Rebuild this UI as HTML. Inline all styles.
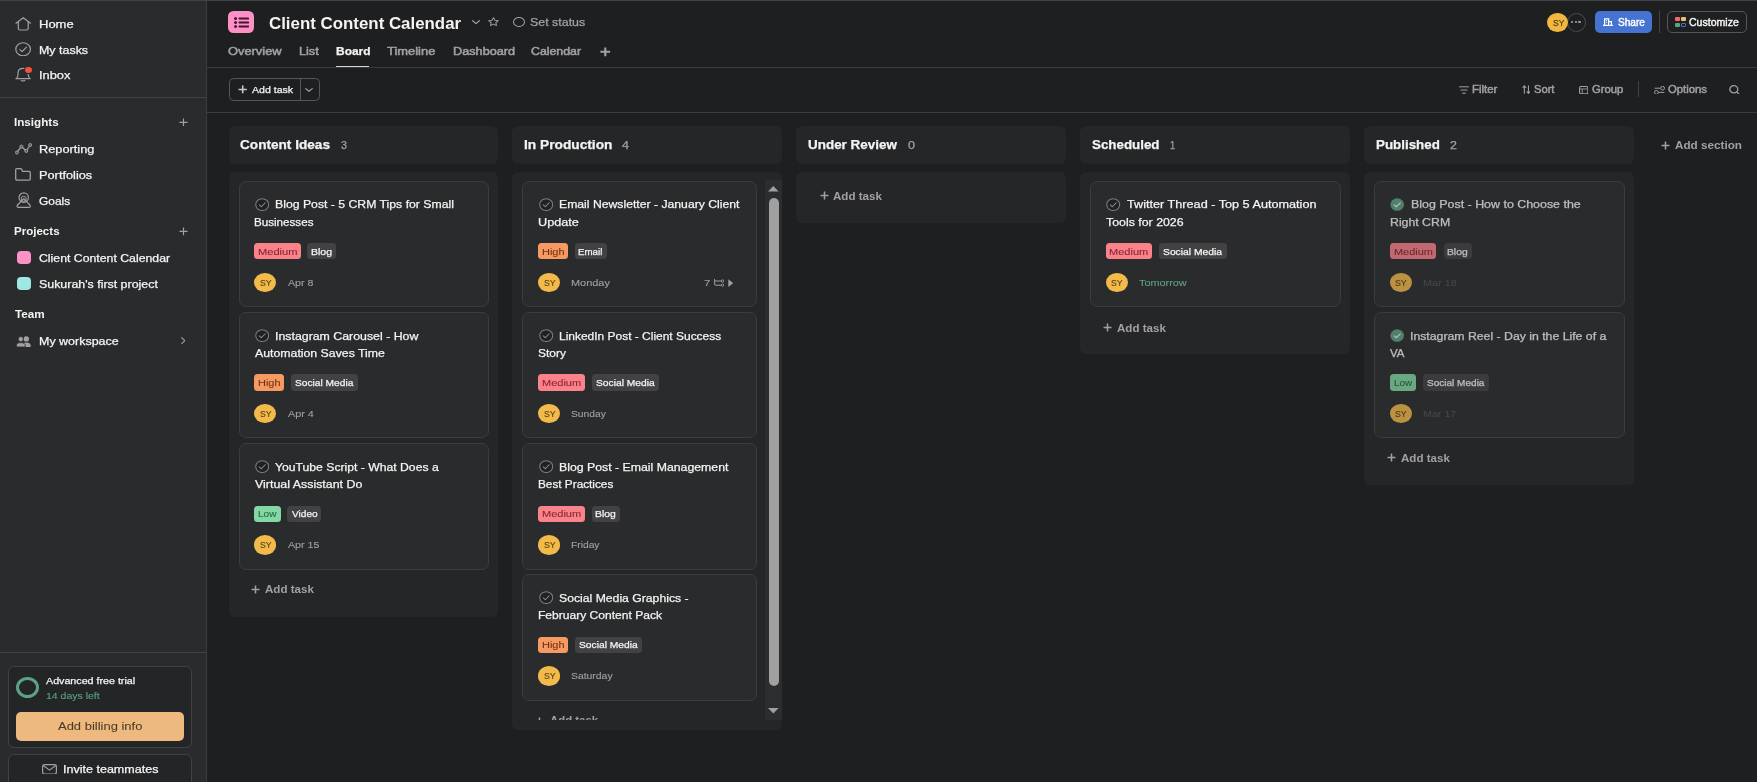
<!DOCTYPE html>
<html><head><meta charset="utf-8"><title>Client Content Calendar</title>
<style>
html,body{margin:0;padding:0;background:#1e1f21;}
body{width:1757px;height:782px;position:relative;overflow:hidden;font-family:"Liberation Sans",sans-serif;}
.b{position:absolute;box-sizing:border-box;}
.t{position:absolute;white-space:nowrap;line-height:1;transform-origin:0 0;display:block;filter:blur(0.35px);-webkit-text-stroke:0.25px currentColor;}
</style></head><body>
<div class="b" style="left:0.00px;top:0.00px;width:206.00px;height:782.00px;background:#2a2b2d;"></div>
<div class="b" style="left:206.00px;top:0.00px;width:1.00px;height:782.00px;background:#3c3d3f;"></div>
<div class="b" style="left:0.00px;top:0.00px;width:1757.00px;height:1.00px;background:#424244;"></div>
<div class="b" style="left:0.00px;top:97.00px;width:206.00px;height:1.00px;background:#424244;"></div>
<div class="b" style="left:0.00px;top:652.00px;width:206.00px;height:1.00px;background:#424244;"></div>
<div class="b" style="left:207.00px;top:67.00px;width:1550.00px;height:1.00px;background:#3a3b3d;"></div>
<div class="b" style="left:207.00px;top:112.00px;width:1550.00px;height:1.00px;background:#3a3b3d;"></div>
<svg class="b" style="left:14.90px;top:16.90px;" width="16.50" height="14.00" viewBox="0 0 16 14" preserveAspectRatio="none" fill="none"><path d="M1 6.2 L8 0.8 L15 6.2 M3.2 5 V11.2 Q3.2 13 5 13 H11 Q12.8 13 12.8 11.2 V5" stroke="#a2a0a2" stroke-width="1.2" stroke-linecap="round" stroke-linejoin="round"/></svg>
<span class="t" style="left:38.67px;top:19.00px;font-size:10.5px;color:#f5f4f3;font-weight:400;transform:scaleX(1.2370);">Home</span>
<svg class="b" style="left:15.00px;top:41.80px;" width="16.20" height="14.40" viewBox="0 0 16 16" preserveAspectRatio="none" fill="none"><circle cx="8" cy="8" r="7.2" stroke="#a2a0a2" stroke-width="1.2"/><path d="M4.8 8.4 L7 10.6 L11.4 5.8" stroke="#a2a0a2" stroke-width="1.2" stroke-linecap="round" stroke-linejoin="round"/></svg>
<span class="t" style="left:38.71px;top:45.00px;font-size:10.5px;color:#f5f4f3;font-weight:400;transform:scaleX(1.1852);">My tasks</span>
<svg class="b" style="left:15.00px;top:67.40px;" width="16.20" height="14.80" viewBox="0 0 16 16" preserveAspectRatio="none" fill="none"><path d="M1 12.6 Q3 11 3 8 V6.5 Q3 1.5 8 1.5 Q13 1.5 13 6.5 V8 Q13 11 15 12.6 Z" stroke="#a2a0a2" stroke-width="1.2" stroke-linejoin="round"/><path d="M6.3 14.6 Q8 15.8 9.7 14.6" stroke="#a2a0a2" stroke-width="1.2" stroke-linecap="round"/></svg>
<div class="b" style="left:24.80px;top:66.60px;width:7.00px;height:6.40px;background:#f4503f;border-radius:50%;box-shadow:0 0 0 1px #2a2b2d;"></div>
<span class="t" style="left:38.88px;top:70.00px;font-size:10.5px;color:#f5f4f3;font-weight:400;transform:scaleX(1.2204);">Inbox</span>
<span class="t" style="left:14.25px;top:117.00px;font-size:10.5px;color:#f5f4f3;font-weight:700;transform:scaleX(1.1089);-webkit-text-stroke:0;">Insights</span>
<svg class="b" style="left:178.60px;top:117.60px;" width="9.00" height="8.80" viewBox="0 0 10 10" preserveAspectRatio="none" fill="none"><path d="M5 0.5 V9.5 M0.5 5 H9.5" stroke="#a2a0a2" stroke-width="1.3"/></svg>
<svg class="b" style="left:14.60px;top:143.40px;" width="17.00" height="11.40" viewBox="0 0 17 11.4" preserveAspectRatio="none" fill="none"><path d="M1.8 9.5 L6.4 3.6 L11.3 8 L15.2 2" stroke="#a2a0a2" stroke-width="1.3" stroke-linejoin="round"/><circle cx="1.9" cy="9.5" r="1.5" stroke="#a2a0a2" stroke-width="1" fill="#555557"/><circle cx="6.4" cy="3.6" r="1.5" stroke="#a2a0a2" stroke-width="1" fill="#555557"/><circle cx="11.3" cy="8" r="1.5" stroke="#a2a0a2" stroke-width="1" fill="#555557"/><circle cx="15.2" cy="2" r="1.5" stroke="#a2a0a2" stroke-width="1" fill="#555557"/></svg>
<span class="t" style="left:38.69px;top:144.00px;font-size:10.5px;color:#f5f4f3;font-weight:400;transform:scaleX(1.2158);">Reporting</span>
<svg class="b" style="left:15.00px;top:168.40px;" width="16.00" height="12.80" viewBox="0 0 16 12.8" preserveAspectRatio="none" fill="none"><path d="M0.7 2 Q0.7 0.7 2 0.7 H5.6 Q6.4 0.7 6.8 1.6 L7.6 3.4 H14 Q15.3 3.4 15.3 4.7 V10.8 Q15.3 12.1 14 12.1 H2 Q0.7 12.1 0.7 10.8 Z" stroke="#a2a0a2" stroke-width="1.3" stroke-linejoin="round"/></svg>
<span class="t" style="left:38.69px;top:170.00px;font-size:10.5px;color:#f5f4f3;font-weight:400;transform:scaleX(1.2164);">Portfolios</span>
<svg class="b" style="left:15.60px;top:192.00px;" width="15.40" height="16.00" viewBox="0 0 15.4 16" preserveAspectRatio="none" fill="none"><circle cx="7.7" cy="5.6" r="4.7" stroke="#a2a0a2" stroke-width="1.2"/><circle cx="7.7" cy="6.8" r="2.5" stroke="#a2a0a2" stroke-width="1"/><path d="M7.7 6.6 L13.9 13 Q15 15.3 12.8 15.3 H2.6 Q0.4 15.3 1.5 13 Z" stroke="#a2a0a2" stroke-width="1.2" stroke-linejoin="round"/></svg>
<span class="t" style="left:39.03px;top:196.00px;font-size:10.5px;color:#f5f4f3;font-weight:400;transform:scaleX(1.1364);">Goals</span>
<span class="t" style="left:14.25px;top:226.00px;font-size:10.5px;color:#f5f4f3;font-weight:700;transform:scaleX(1.0994);-webkit-text-stroke:0;">Projects</span>
<svg class="b" style="left:178.60px;top:226.80px;" width="9.00" height="8.80" viewBox="0 0 10 10" preserveAspectRatio="none" fill="none"><path d="M5 0.5 V9.5 M0.5 5 H9.5" stroke="#a2a0a2" stroke-width="1.3"/></svg>
<div class="b" style="left:16.60px;top:251.00px;width:14.80px;height:13.40px;background:#fc91c6;border-radius:4px;"></div>
<span class="t" style="left:39.02px;top:253.00px;font-size:10.5px;color:#f5f4f3;font-weight:400;transform:scaleX(1.1695);">Client Content Calendar</span>
<div class="b" style="left:16.60px;top:277.00px;width:14.80px;height:13.40px;background:#9ee7e3;border-radius:4px;"></div>
<span class="t" style="left:39.01px;top:279.00px;font-size:10.5px;color:#f5f4f3;font-weight:400;transform:scaleX(1.1810);">Sukurah's first project</span>
<span class="t" style="left:15.00px;top:309.00px;font-size:10.5px;color:#f5f4f3;font-weight:700;transform:scaleX(1.1154);-webkit-text-stroke:0;">Team</span>
<svg class="b" style="left:16.40px;top:336.00px;" width="15.00" height="11.00" viewBox="0 0 15 11" preserveAspectRatio="none" fill="none"><circle cx="10.3" cy="2.9" r="2.7" fill="#a2a0a2"/><path d="M6.2 11 V9.6 Q6.2 6.4 10.3 6.4 Q14.6 6.4 14.6 9.6 V11 Z" fill="#a2a0a2"/><circle cx="4.8" cy="3.1" r="2.6" fill="#a2a0a2" stroke="#2a2b2d" stroke-width="0.8"/><path d="M0.4 11 V9.8 Q0.4 6.6 4.8 6.6 Q9.2 6.6 9.2 9.8 V11 Z" fill="#a2a0a2" stroke="#2a2b2d" stroke-width="0.8"/></svg>
<span class="t" style="left:38.71px;top:336.00px;font-size:10.5px;color:#f5f4f3;font-weight:400;transform:scaleX(1.1879);">My workspace</span>
<svg class="b" style="left:180.60px;top:337.40px;" width="4.60" height="7.40" viewBox="0 0 5 8" preserveAspectRatio="none" fill="none"><path d="M0.8 0.8 L4.2 4 L0.8 7.2" stroke="#a2a0a2" stroke-width="1.2" stroke-linecap="round" stroke-linejoin="round"/></svg>
<div class="b" style="left:8.40px;top:666.40px;width:183.60px;height:81.60px;background:#242527;border:1px solid #424244;border-radius:6px;"></div>
<div class="b" style="left:15.60px;top:677.00px;width:23.00px;height:21.00px;border:1px solid #5da283;border-radius:50%;border-width:3px;"></div>
<span class="t" style="left:46.00px;top:676.00px;font-size:9.5px;color:#f5f4f3;font-weight:400;transform:scaleX(1.1251);">Advanced free trial</span>
<span class="t" style="left:45.77px;top:691.00px;font-size:9.5px;color:#5da283;font-weight:400;transform:scaleX(1.1042);-webkit-text-stroke:0.1px;">14 days left</span>
<div class="b" style="left:15.60px;top:712.40px;width:168.60px;height:28.60px;background:#edb97e;border-radius:5px;"></div>
<span class="t" style="left:58.00px;top:721.00px;font-size:11px;color:#4a3a26;font-weight:400;transform:scaleX(1.1789);-webkit-text-stroke:0.05px;">Add billing info</span>
<div class="b" style="left:8.40px;top:754.40px;width:183.60px;height:40.00px;background:#242527;border:1px solid #424244;border-radius:6px;"></div>
<svg class="b" style="left:42.00px;top:763.60px;" width="15.00" height="10.60" viewBox="0 0 15 11" preserveAspectRatio="none" fill="none"><rect x="0.6" y="0.6" width="13.8" height="9.8" rx="1.8" stroke="#a2a0a2" stroke-width="1.2"/><path d="M1.2 1.6 L7.5 6.4 L13.8 1.6" stroke="#a2a0a2" stroke-width="1.2" stroke-linejoin="round"/></svg>
<span class="t" style="left:62.81px;top:764.00px;font-size:10.5px;color:#f5f4f3;font-weight:400;transform:scaleX(1.1937);">Invite teammates</span>
<div class="b" style="left:228.40px;top:11.00px;width:26.00px;height:22.00px;background:#fc91c6;border-radius:5.5px;"></div>
<svg class="b" style="left:233.60px;top:16.60px;" width="15.60" height="11.00" viewBox="0 0 16 11" preserveAspectRatio="none" fill="none"><circle cx="1.6" cy="1.6" r="1.5" fill="#4a1230"/><circle cx="1.6" cy="5.5" r="1.5" fill="#4a1230"/><circle cx="1.6" cy="9.4" r="1.5" fill="#4a1230"/><path d="M5.6 1.6 H14.6 M5.6 5.5 H14.6 M5.6 9.4 H14.6" stroke="#4a1230" stroke-width="2" stroke-linecap="round"/></svg>
<span class="t" style="left:269.07px;top:16.00px;font-size:15.8px;color:#f5f4f3;font-weight:700;transform:scaleX(1.0678);-webkit-text-stroke:0;">Client Content Calendar</span>
<svg class="b" style="left:471.60px;top:19.60px;" width="8.00" height="4.40" viewBox="0 0 8 4.4" preserveAspectRatio="none" fill="none"><path d="M0.7 0.7 L4 3.6 L7.3 0.7" stroke="#a2a0a2" stroke-width="1.2" stroke-linecap="round" stroke-linejoin="round"/></svg>
<svg class="b" style="left:488.00px;top:17.40px;" width="11.00" height="9.20" viewBox="0 0 12 11.4" preserveAspectRatio="none" fill="none"><path d="M6 0.8 L7.6 4 L11.2 4.5 L8.6 7 L9.2 10.6 L6 8.9 L2.8 10.6 L3.4 7 L0.8 4.5 L4.4 4 Z" stroke="#a2a0a2" stroke-width="1.1" stroke-linejoin="round"/></svg>
<div class="b" style="left:513.40px;top:17.00px;width:11.60px;height:10.00px;border:1px solid #a2a0a2;border-radius:50%;"></div>
<span class="t" style="left:530.41px;top:17.00px;font-size:10.5px;color:#a2a0a2;font-weight:400;transform:scaleX(1.1826);">Set status</span>
<span class="t" style="left:228.40px;top:46.00px;font-size:10.8px;color:#a2a0a2;font-weight:400;transform:scaleX(1.1910);-webkit-text-stroke:0.5px;">Overview</span>
<span class="t" style="left:298.72px;top:46.00px;font-size:10.8px;color:#a2a0a2;font-weight:400;transform:scaleX(1.1750);-webkit-text-stroke:0.5px;">List</span>
<span class="t" style="left:387.10px;top:46.00px;font-size:10.8px;color:#a2a0a2;font-weight:400;transform:scaleX(1.1975);-webkit-text-stroke:0.5px;">Timeline</span>
<span class="t" style="left:452.52px;top:46.00px;font-size:10.8px;color:#a2a0a2;font-weight:400;transform:scaleX(1.1767);-webkit-text-stroke:0.5px;">Dashboard</span>
<span class="t" style="left:531.43px;top:46.00px;font-size:10.8px;color:#a2a0a2;font-weight:400;transform:scaleX(1.1422);-webkit-text-stroke:0.5px;">Calendar</span>
<span class="t" style="left:335.57px;top:46.00px;font-size:10.8px;color:#f5f4f3;font-weight:700;transform:scaleX(1.1092);">Board</span>
<div class="b" style="left:336.40px;top:65.60px;width:33.00px;height:1.60px;background:#d6d5d4;"></div>
<svg class="b" style="left:600.00px;top:47.00px;" width="10.60" height="9.60" viewBox="0 0 10 10" preserveAspectRatio="none" fill="none"><path d="M5 0.4 V9.6 M0.4 5 H9.6" stroke="#a2a0a2" stroke-width="2"/></svg>
<div class="b" style="left:1567.00px;top:13.00px;width:19.00px;height:19.00px;border:1px solid #4a4b4d;border-radius:50%;"></div>
<div class="b" style="left:1570.60px;top:20.80px;width:2.20px;height:1.80px;background:#a2a0a2;border-radius:50%;"></div>
<div class="b" style="left:1574.50px;top:20.80px;width:2.20px;height:1.80px;background:#a2a0a2;border-radius:50%;"></div>
<div class="b" style="left:1578.40px;top:20.80px;width:2.20px;height:1.80px;background:#a2a0a2;border-radius:50%;"></div>
<div class="b" style="left:1547.40px;top:12.60px;width:20.80px;height:19.40px;background:#f1b740;border-radius:50%;"></div>
<span class="t" style="left:1552.77px;top:18.00px;font-size:9.8px;color:#5a4210;font-weight:400;transform:scaleX(0.8640);">SY</span>
<div class="b" style="left:1595.40px;top:11.00px;width:56.60px;height:22.00px;background:#4573d2;border-radius:5px;"></div>
<svg class="b" style="left:1603.00px;top:18.00px;" width="10.00" height="8.00" viewBox="0 0 10 8" preserveAspectRatio="none" fill="none"><path d="M1.6 7.4 V0.8 H5.6 V7.4 M5.6 3.6 H8.4 V7.4 M0 7.4 H10" stroke="#fff" stroke-width="1.2"/><path d="M3 2.6H4.2M3 4.4H4.2" stroke="#fff" stroke-width="0.9"/></svg>
<span class="t" style="left:1617.50px;top:18.00px;font-size:10px;color:#fff;font-weight:400;transform:scaleX(1.0097);-webkit-text-stroke:0.4px;">Share</span>
<div class="b" style="left:1659.00px;top:11.40px;width:1.00px;height:21.20px;background:#424244;"></div>
<div class="b" style="left:1667.40px;top:11.00px;width:79.60px;height:22.00px;border:1px solid #565557;border-radius:5px;"></div>
<div class="b" style="left:1675.00px;top:17.00px;width:4.60px;height:4.20px;background:#f06a6a;border-radius:1px;"></div>
<div class="b" style="left:1681.20px;top:17.00px;width:4.60px;height:4.20px;background:#f1bd6c;border-radius:1px;"></div>
<div class="b" style="left:1675.00px;top:22.60px;width:4.60px;height:4.20px;background:#5da283;border-radius:1px;"></div>
<div class="b" style="left:1681.20px;top:22.60px;width:4.60px;height:4.20px;border:1px solid #4573d2;border-radius:1px;"></div>
<span class="t" style="left:1689.47px;top:18.00px;font-size:10px;color:#f5f4f3;font-weight:400;transform:scaleX(1.0538);-webkit-text-stroke:0.4px;">Customize</span>
<div class="b" style="left:229.00px;top:78.40px;width:90.60px;height:22.40px;border:1px solid #565557;border-radius:4.5px;"></div>
<div class="b" style="left:300.00px;top:79.00px;width:1.00px;height:21.00px;background:#565557;"></div>
<svg class="b" style="left:238.00px;top:85.40px;" width="9.40" height="8.80" viewBox="0 0 10 10" preserveAspectRatio="none" fill="none"><path d="M5 0.6 V9.4 M0.6 5 H9.4" stroke="#c9c8c7" stroke-width="1.7"/></svg>
<span class="t" style="left:251.90px;top:85.00px;font-size:9.4px;color:#f5f4f3;font-weight:400;transform:scaleX(1.1260);">Add task</span>
<svg class="b" style="left:305.20px;top:88.00px;" width="8.00" height="4.00" viewBox="0 0 8 4.4" preserveAspectRatio="none" fill="none"><path d="M0.7 0.7 L4 3.6 L7.3 0.7" stroke="#a2a0a2" stroke-width="1.2" stroke-linecap="round" stroke-linejoin="round"/></svg>
<svg class="b" style="left:1458.60px;top:86.00px;" width="10.00" height="8.00" viewBox="0 0 10 8" preserveAspectRatio="none" fill="none"><path d="M0 0.8 H10 M1.6 4 H8.4 M3.2 7.2 H6.8" stroke="#a2a0a2" stroke-width="1"/></svg>
<span class="t" style="left:1472.16px;top:85.00px;font-size:10.2px;color:#a2a0a2;font-weight:400;transform:scaleX(1.1218);-webkit-text-stroke:0.45px;">Filter</span>
<svg class="b" style="left:1521.60px;top:85.00px;" width="8.80" height="9.20" viewBox="0 0 9 9.4" preserveAspectRatio="none" fill="none"><path d="M2.4 9 V1 M0.6 2.8 L2.4 0.8 L4.2 2.8 M6.6 0.4 V8.4 M4.8 6.6 L6.6 8.6 L8.4 6.6" stroke="#a2a0a2" stroke-width="1.1" stroke-linejoin="round"/></svg>
<span class="t" style="left:1534.45px;top:85.00px;font-size:10.2px;color:#a2a0a2;font-weight:400;transform:scaleX(1.0959);-webkit-text-stroke:0.45px;">Sort</span>
<svg class="b" style="left:1579.00px;top:85.60px;" width="9.40" height="8.40" viewBox="0 0 10 9" preserveAspectRatio="none" fill="none"><rect x="0.6" y="0.6" width="8.8" height="7.8" rx="1.4" stroke="#a2a0a2" stroke-width="1.1"/><path d="M0.6 3.2 H9.4 M3.4 3.2 V8.4" stroke="#a2a0a2" stroke-width="0.9"/></svg>
<span class="t" style="left:1592.45px;top:85.00px;font-size:10.2px;color:#a2a0a2;font-weight:400;transform:scaleX(1.1055);-webkit-text-stroke:0.45px;">Group</span>
<div class="b" style="left:1638.00px;top:81.00px;width:1.00px;height:16.00px;background:#424244;"></div>
<svg class="b" style="left:1654.00px;top:85.60px;" width="11.00" height="8.60" viewBox="0 0 11 8.6" preserveAspectRatio="none" fill="none"><path d="M0.6 2.2 H6.4 M4.6 6.4 H10.4" stroke="#a2a0a2" stroke-width="1"/><circle cx="8.6" cy="2.2" r="1.9" stroke="#a2a0a2" stroke-width="1"/><circle cx="2.4" cy="6.4" r="1.9" stroke="#a2a0a2" stroke-width="1"/></svg>
<span class="t" style="left:1668.45px;top:85.00px;font-size:10.2px;color:#a2a0a2;font-weight:400;transform:scaleX(1.1095);-webkit-text-stroke:0.45px;">Options</span>
<svg class="b" style="left:1729.40px;top:85.00px;" width="10.20" height="9.40" viewBox="0 0 10.2 9.4" preserveAspectRatio="none" fill="none"><ellipse cx="4.8" cy="4.3" rx="4" ry="3.6" stroke="#a2a0a2" stroke-width="1.3"/><path d="M7.8 7 L9.8 8.9" stroke="#a2a0a2" stroke-width="1.3" stroke-linecap="round"/></svg>
<div class="b" style="left:229.00px;top:126.20px;width:269.00px;height:37.40px;background:#252628;border-radius:6px;"></div>
<span class="t" style="left:240.46px;top:139.00px;font-size:12.5px;color:#f5f4f3;font-weight:700;transform:scaleX(1.0887);">Content Ideas</span>
<span class="t" style="left:340.74px;top:140.00px;font-size:10.5px;color:#a2a0a2;font-weight:400;transform:scaleX(1.0286);">3</span>
<div class="b" style="left:512.00px;top:126.20px;width:270.00px;height:37.40px;background:#252628;border-radius:6px;"></div>
<span class="t" style="left:523.78px;top:139.00px;font-size:12.5px;color:#f5f4f3;font-weight:700;transform:scaleX(1.0978);">In Production</span>
<span class="t" style="left:622.10px;top:140.00px;font-size:10.5px;color:#a2a0a2;font-weight:400;transform:scaleX(1.2000);">4</span>
<div class="b" style="left:796.00px;top:126.20px;width:270.00px;height:37.40px;background:#252628;border-radius:6px;"></div>
<span class="t" style="left:807.79px;top:139.00px;font-size:12.5px;color:#f5f4f3;font-weight:700;transform:scaleX(1.0756);">Under Review</span>
<span class="t" style="left:907.50px;top:140.00px;font-size:10.5px;color:#a2a0a2;font-weight:400;transform:scaleX(1.2000);">0</span>
<div class="b" style="left:1080.00px;top:126.20px;width:270.00px;height:37.40px;background:#252628;border-radius:6px;"></div>
<span class="t" style="left:1092.03px;top:139.00px;font-size:12.5px;color:#f5f4f3;font-weight:700;transform:scaleX(1.0683);">Scheduled</span>
<span class="t" style="left:1170.14px;top:140.00px;font-size:10.5px;color:#a2a0a2;font-weight:400;transform:scaleX(0.8842);">1</span>
<div class="b" style="left:1364.00px;top:126.20px;width:270.00px;height:37.40px;background:#252628;border-radius:6px;"></div>
<span class="t" style="left:1375.70px;top:139.00px;font-size:12.5px;color:#f5f4f3;font-weight:700;transform:scaleX(1.0678);">Published</span>
<span class="t" style="left:1449.81px;top:140.00px;font-size:10.5px;color:#a2a0a2;font-weight:400;transform:scaleX(1.1800);">2</span>
<svg class="b" style="left:1661.40px;top:140.60px;" width="9.00" height="9.00" viewBox="0 0 10 10" preserveAspectRatio="none" fill="none"><path d="M5 0.6 V9.4 M0.6 5 H9.4" stroke="#a2a0a2" stroke-width="1.7"/></svg>
<span class="t" style="left:1674.63px;top:140.00px;font-size:10.8px;color:#a2a0a2;font-weight:700;transform:scaleX(1.0836);-webkit-text-stroke:0;">Add section</span>
<div class="b" style="left:229.00px;top:172.00px;width:269.00px;height:444.60px;background:#252628;border-radius:6px;"></div>
<div class="b" style="left:238.60px;top:181.00px;width:250.40px;height:126.00px;background:#2a2b2d;border:1px solid #3b3c3e;border-radius:7px;"></div>
<svg class="b" style="left:254.60px;top:197.80px;" width="14.40" height="13.20" viewBox="0 0 16 16" preserveAspectRatio="none" fill="none"><circle cx="8" cy="8" r="7.2" stroke="#7d7c7e" stroke-width="1.2" fill="#202123"/><path d="M4.8 8.4 L7 10.6 L11.4 5.8" stroke="#8d8c8e" stroke-width="1.2" stroke-linecap="round" stroke-linejoin="round"/></svg>
<span class="t" style="left:274.81px;top:198.00px;font-size:11.6px;color:#f5f4f3;font-weight:400;transform:scaleX(1.0560);">Blog Post - 5 CRM Tips for Small</span>
<span class="t" style="left:253.85px;top:216.00px;font-size:11.6px;color:#f5f4f3;font-weight:400;transform:scaleX(1.0026);">Businesses</span>
<div class="b" style="left:254.00px;top:243.30px;width:47.00px;height:16.20px;background:#fa828a;border-radius:3.5px;"></div>
<span class="t" style="left:257.75px;top:247.00px;font-size:9.8px;color:#8a2433;font-weight:400;transform:scaleX(1.1343);-webkit-text-stroke:0.1px;">Medium</span>
<div class="b" style="left:307.40px;top:243.30px;width:28.60px;height:16.20px;background:#424244;border-radius:3.5px;"></div>
<span class="t" style="left:311.19px;top:247.00px;font-size:9.8px;color:#f5f4f3;font-weight:400;transform:scaleX(1.0740);">Blog</span>
<div class="b" style="left:253.90px;top:273.00px;width:22.00px;height:19.40px;background:#f2ba4a;border-radius:50%;"></div>
<span class="t" style="left:259.56px;top:279.00px;font-size:9px;color:#5a4210;font-weight:400;transform:scaleX(0.9739);-webkit-text-stroke:0.1px;">SY</span>
<span class="t" style="left:287.80px;top:278.00px;font-size:9.5px;color:#a2a0a2;font-weight:400;transform:scaleX(1.1200);-webkit-text-stroke:0.1px;">Apr 8</span>
<div class="b" style="left:238.60px;top:312.00px;width:250.40px;height:126.00px;background:#2a2b2d;border:1px solid #3b3c3e;border-radius:7px;"></div>
<svg class="b" style="left:254.60px;top:328.90px;" width="14.40" height="13.20" viewBox="0 0 16 16" preserveAspectRatio="none" fill="none"><circle cx="8" cy="8" r="7.2" stroke="#7d7c7e" stroke-width="1.2" fill="#202123"/><path d="M4.8 8.4 L7 10.6 L11.4 5.8" stroke="#8d8c8e" stroke-width="1.2" stroke-linecap="round" stroke-linejoin="round"/></svg>
<span class="t" style="left:274.54px;top:330.00px;font-size:11.6px;color:#f5f4f3;font-weight:400;transform:scaleX(1.0647);">Instagram Carousel - How</span>
<span class="t" style="left:254.60px;top:347.00px;font-size:11.6px;color:#f5f4f3;font-weight:400;transform:scaleX(1.0607);">Automation Saves Time</span>
<div class="b" style="left:254.00px;top:374.40px;width:30.00px;height:16.20px;background:#f69a63;border-radius:3.5px;"></div>
<span class="t" style="left:257.76px;top:378.00px;font-size:9.8px;color:#74340f;font-weight:400;transform:scaleX(1.1200);-webkit-text-stroke:0.1px;">High</span>
<div class="b" style="left:291.00px;top:374.40px;width:67.00px;height:16.20px;background:#424244;border-radius:3.5px;"></div>
<span class="t" style="left:295.08px;top:378.00px;font-size:9.8px;color:#f5f4f3;font-weight:400;transform:scaleX(1.0404);">Social Media</span>
<div class="b" style="left:253.90px;top:404.10px;width:22.00px;height:19.40px;background:#f2ba4a;border-radius:50%;"></div>
<span class="t" style="left:259.56px;top:410.00px;font-size:9px;color:#5a4210;font-weight:400;transform:scaleX(0.9739);-webkit-text-stroke:0.1px;">SY</span>
<span class="t" style="left:287.80px;top:409.00px;font-size:9.5px;color:#a2a0a2;font-weight:400;transform:scaleX(1.1378);-webkit-text-stroke:0.1px;">Apr 4</span>
<div class="b" style="left:238.60px;top:443.00px;width:250.40px;height:127.00px;background:#2a2b2d;border:1px solid #3b3c3e;border-radius:7px;"></div>
<svg class="b" style="left:254.60px;top:460.00px;" width="14.40" height="13.20" viewBox="0 0 16 16" preserveAspectRatio="none" fill="none"><circle cx="8" cy="8" r="7.2" stroke="#7d7c7e" stroke-width="1.2" fill="#202123"/><path d="M4.8 8.4 L7 10.6 L11.4 5.8" stroke="#8d8c8e" stroke-width="1.2" stroke-linecap="round" stroke-linejoin="round"/></svg>
<span class="t" style="left:275.34px;top:461.00px;font-size:11.6px;color:#f5f4f3;font-weight:400;transform:scaleX(1.0510);">YouTube Script - What Does a</span>
<span class="t" style="left:254.60px;top:478.00px;font-size:11.6px;color:#f5f4f3;font-weight:400;transform:scaleX(1.0700);">Virtual Assistant Do</span>
<div class="b" style="left:254.00px;top:505.50px;width:26.70px;height:16.20px;background:#83d8a4;border-radius:3.5px;"></div>
<span class="t" style="left:257.83px;top:509.00px;font-size:9.8px;color:#1f6a40;font-weight:400;transform:scaleX(1.0261);-webkit-text-stroke:0.1px;">Low</span>
<div class="b" style="left:287.30px;top:505.50px;width:34.20px;height:16.20px;background:#424244;border-radius:3.5px;"></div>
<span class="t" style="left:291.90px;top:509.00px;font-size:9.8px;color:#f5f4f3;font-weight:400;transform:scaleX(1.0286);">Video</span>
<div class="b" style="left:253.90px;top:535.20px;width:22.00px;height:19.40px;background:#f2ba4a;border-radius:50%;"></div>
<span class="t" style="left:259.56px;top:541.00px;font-size:9px;color:#5a4210;font-weight:400;transform:scaleX(0.9739);-webkit-text-stroke:0.1px;">SY</span>
<span class="t" style="left:287.80px;top:540.00px;font-size:9.5px;color:#a2a0a2;font-weight:400;transform:scaleX(1.1243);-webkit-text-stroke:0.1px;">Apr 15</span>
<svg class="b" style="left:251.40px;top:584.80px;" width="9.00" height="9.00" viewBox="0 0 10 10" preserveAspectRatio="none" fill="none"><path d="M5 0.6 V9.4 M0.6 5 H9.4" stroke="#a2a0a2" stroke-width="1.7"/></svg>
<span class="t" style="left:265.13px;top:584.00px;font-size:10.8px;color:#a2a0a2;font-weight:700;transform:scaleX(1.0725);-webkit-text-stroke:0;">Add task</span>
<div class="b" style="left:512.00px;top:172.00px;width:270.00px;height:558.00px;background:#252628;border-radius:6px;"></div>
<div class="b" style="left:765.00px;top:180.00px;width:17.00px;height:540.00px;background:#2c2d2f;"></div>
<div class="b" style="left:522.40px;top:181.00px;width:234.60px;height:126.00px;background:#2a2b2d;border:1px solid #3b3c3e;border-radius:7px;"></div>
<svg class="b" style="left:538.80px;top:197.80px;" width="14.40" height="13.20" viewBox="0 0 16 16" preserveAspectRatio="none" fill="none"><circle cx="8" cy="8" r="7.2" stroke="#7d7c7e" stroke-width="1.2" fill="#202123"/><path d="M4.8 8.4 L7 10.6 L11.4 5.8" stroke="#8d8c8e" stroke-width="1.2" stroke-linecap="round" stroke-linejoin="round"/></svg>
<span class="t" style="left:559.01px;top:198.00px;font-size:11.6px;color:#f5f4f3;font-weight:400;transform:scaleX(1.0530);">Email Newsletter - January Client</span>
<span class="t" style="left:537.98px;top:216.00px;font-size:11.6px;color:#f5f4f3;font-weight:400;transform:scaleX(1.0924);">Update</span>
<div class="b" style="left:538.00px;top:243.30px;width:30.00px;height:16.20px;background:#f69a63;border-radius:3.5px;"></div>
<span class="t" style="left:541.76px;top:247.00px;font-size:9.8px;color:#74340f;font-weight:400;transform:scaleX(1.1200);-webkit-text-stroke:0.1px;">High</span>
<div class="b" style="left:574.60px;top:243.30px;width:32.10px;height:16.20px;background:#424244;border-radius:3.5px;"></div>
<span class="t" style="left:578.45px;top:247.00px;font-size:9.8px;color:#f5f4f3;font-weight:400;transform:scaleX(0.9935);">Email</span>
<div class="b" style="left:538.10px;top:273.00px;width:22.00px;height:19.40px;background:#f2ba4a;border-radius:50%;"></div>
<span class="t" style="left:543.76px;top:279.00px;font-size:9px;color:#5a4210;font-weight:400;transform:scaleX(0.9739);-webkit-text-stroke:0.1px;">SY</span>
<span class="t" style="left:571.14px;top:278.00px;font-size:9.5px;color:#a2a0a2;font-weight:400;transform:scaleX(1.1515);-webkit-text-stroke:0.1px;">Monday</span>
<span class="t" style="left:704.00px;top:278.00px;font-size:9.5px;color:#a2a0a2;font-weight:400;transform:scaleX(1.2000);-webkit-text-stroke:0.1px;">7</span>
<svg class="b" style="left:713.60px;top:279.00px;" width="10.40" height="8.00" viewBox="0 0 10.4 8" preserveAspectRatio="none" fill="none"><path d="M0.6 0 V5.4 Q0.6 6.2 1.4 6.2 H7 M0.6 2 H7" stroke="#a2a0a2" stroke-width="1"/><circle cx="8.6" cy="2" r="1.2" stroke="#a2a0a2" stroke-width="0.9"/><circle cx="8.6" cy="6.2" r="1.2" stroke="#a2a0a2" stroke-width="0.9"/></svg>
<svg class="b" style="left:727.60px;top:278.80px;" width="5.40" height="8.40" viewBox="0 0 5.4 8.4" preserveAspectRatio="none" fill="none"><path d="M0.3 0.3 L5.1 4.2 L0.3 8.1 Z" fill="#a2a0a2"/></svg>
<div class="b" style="left:522.40px;top:312.00px;width:234.60px;height:126.00px;background:#2a2b2d;border:1px solid #3b3c3e;border-radius:7px;"></div>
<svg class="b" style="left:538.80px;top:328.90px;" width="14.40" height="13.20" viewBox="0 0 16 16" preserveAspectRatio="none" fill="none"><circle cx="8" cy="8" r="7.2" stroke="#7d7c7e" stroke-width="1.2" fill="#202123"/><path d="M4.8 8.4 L7 10.6 L11.4 5.8" stroke="#8d8c8e" stroke-width="1.2" stroke-linecap="round" stroke-linejoin="round"/></svg>
<span class="t" style="left:559.03px;top:330.00px;font-size:11.6px;color:#f5f4f3;font-weight:400;transform:scaleX(1.0317);">LinkedIn Post - Client Success</span>
<span class="t" style="left:538.28px;top:347.00px;font-size:11.6px;color:#f5f4f3;font-weight:400;transform:scaleX(1.0377);">Story</span>
<div class="b" style="left:538.00px;top:374.40px;width:46.60px;height:16.20px;background:#fa828a;border-radius:3.5px;"></div>
<span class="t" style="left:541.76px;top:378.00px;font-size:9.8px;color:#8a2433;font-weight:400;transform:scaleX(1.1224);-webkit-text-stroke:0.1px;">Medium</span>
<div class="b" style="left:591.50px;top:374.40px;width:67.30px;height:16.20px;background:#424244;border-radius:3.5px;"></div>
<span class="t" style="left:595.58px;top:378.00px;font-size:9.8px;color:#f5f4f3;font-weight:400;transform:scaleX(1.0457);">Social Media</span>
<div class="b" style="left:538.10px;top:404.10px;width:22.00px;height:19.40px;background:#f2ba4a;border-radius:50%;"></div>
<span class="t" style="left:543.76px;top:410.00px;font-size:9px;color:#5a4210;font-weight:400;transform:scaleX(0.9739);-webkit-text-stroke:0.1px;">SY</span>
<span class="t" style="left:571.46px;top:409.00px;font-size:9.5px;color:#a2a0a2;font-weight:400;transform:scaleX(1.0803);-webkit-text-stroke:0.1px;">Sunday</span>
<div class="b" style="left:522.40px;top:443.00px;width:234.60px;height:127.00px;background:#2a2b2d;border:1px solid #3b3c3e;border-radius:7px;"></div>
<svg class="b" style="left:538.80px;top:460.00px;" width="14.40" height="13.20" viewBox="0 0 16 16" preserveAspectRatio="none" fill="none"><circle cx="8" cy="8" r="7.2" stroke="#7d7c7e" stroke-width="1.2" fill="#202123"/><path d="M4.8 8.4 L7 10.6 L11.4 5.8" stroke="#8d8c8e" stroke-width="1.2" stroke-linecap="round" stroke-linejoin="round"/></svg>
<span class="t" style="left:559.01px;top:461.00px;font-size:11.6px;color:#f5f4f3;font-weight:400;transform:scaleX(1.0600);">Blog Post - Email Management</span>
<span class="t" style="left:538.04px;top:478.00px;font-size:11.6px;color:#f5f4f3;font-weight:400;transform:scaleX(1.0164);">Best Practices</span>
<div class="b" style="left:538.00px;top:505.50px;width:46.60px;height:16.20px;background:#fa828a;border-radius:3.5px;"></div>
<span class="t" style="left:541.76px;top:509.00px;font-size:9.8px;color:#8a2433;font-weight:400;transform:scaleX(1.1224);-webkit-text-stroke:0.1px;">Medium</span>
<div class="b" style="left:591.50px;top:505.50px;width:28.30px;height:16.20px;background:#424244;border-radius:3.5px;"></div>
<span class="t" style="left:595.31px;top:509.00px;font-size:9.8px;color:#f5f4f3;font-weight:400;transform:scaleX(1.0575);">Blog</span>
<div class="b" style="left:538.10px;top:535.20px;width:22.00px;height:19.40px;background:#f2ba4a;border-radius:50%;"></div>
<span class="t" style="left:543.76px;top:541.00px;font-size:9px;color:#5a4210;font-weight:400;transform:scaleX(0.9739);-webkit-text-stroke:0.1px;">SY</span>
<span class="t" style="left:571.19px;top:540.00px;font-size:9.5px;color:#a2a0a2;font-weight:400;transform:scaleX(1.0796);-webkit-text-stroke:0.1px;">Friday</span>
<div class="b" style="left:522.40px;top:574.00px;width:234.60px;height:127.00px;background:#2a2b2d;border:1px solid #3b3c3e;border-radius:7px;"></div>
<svg class="b" style="left:538.80px;top:591.20px;" width="14.40" height="13.20" viewBox="0 0 16 16" preserveAspectRatio="none" fill="none"><circle cx="8" cy="8" r="7.2" stroke="#7d7c7e" stroke-width="1.2" fill="#202123"/><path d="M4.8 8.4 L7 10.6 L11.4 5.8" stroke="#8d8c8e" stroke-width="1.2" stroke-linecap="round" stroke-linejoin="round"/></svg>
<span class="t" style="left:559.27px;top:592.00px;font-size:11.6px;color:#f5f4f3;font-weight:400;transform:scaleX(1.0528);">Social Media Graphics -</span>
<span class="t" style="left:538.02px;top:609.00px;font-size:11.6px;color:#f5f4f3;font-weight:400;transform:scaleX(1.0397);">February Content Pack</span>
<div class="b" style="left:538.00px;top:636.70px;width:30.00px;height:16.20px;background:#f69a63;border-radius:3.5px;"></div>
<span class="t" style="left:541.76px;top:640.00px;font-size:9.8px;color:#74340f;font-weight:400;transform:scaleX(1.1200);-webkit-text-stroke:0.1px;">High</span>
<div class="b" style="left:574.60px;top:636.70px;width:67.40px;height:16.20px;background:#424244;border-radius:3.5px;"></div>
<span class="t" style="left:578.68px;top:640.00px;font-size:9.8px;color:#f5f4f3;font-weight:400;transform:scaleX(1.0475);">Social Media</span>
<div class="b" style="left:538.10px;top:666.40px;width:22.00px;height:19.40px;background:#f2ba4a;border-radius:50%;"></div>
<span class="t" style="left:543.76px;top:672.00px;font-size:9px;color:#5a4210;font-weight:400;transform:scaleX(0.9739);-webkit-text-stroke:0.1px;">SY</span>
<span class="t" style="left:571.45px;top:671.00px;font-size:9.5px;color:#a2a0a2;font-weight:400;transform:scaleX(1.0933);-webkit-text-stroke:0.1px;">Saturday</span>
<div class="b" style="left:513px;top:700px;width:253px;height:20px;overflow:hidden">
<svg class="b" style="left:22.40px;top:16.80px;" width="9.00" height="9.00" viewBox="0 0 10 10" preserveAspectRatio="none" fill="none"><path d="M5 0.6 V9.4 M0.6 5 H9.4" stroke="#a2a0a2" stroke-width="1.7"/></svg>
<span class="t" style="left:36.74px;top:15.00px;font-size:10.8px;color:#a2a0a2;font-weight:700;transform:scaleX(1.0549);-webkit-text-stroke:0;">Add task</span>
</div>
<svg class="b" style="left:768.40px;top:186.00px;" width="10.60" height="5.60" viewBox="0 0 10 5" preserveAspectRatio="none" fill="none"><path d="M0 5 L5 0 L10 5 Z" fill="#a0a0a0"/></svg>
<svg class="b" style="left:768.40px;top:708.00px;" width="10.60" height="5.60" viewBox="0 0 10 5" preserveAspectRatio="none" fill="none"><path d="M0 0 L5 5 L10 0 Z" fill="#a0a0a0"/></svg>
<div class="b" style="left:768.60px;top:198.00px;width:10.40px;height:488.00px;background:#a0a0a0;border-radius:5px;"></div>
<div class="b" style="left:796.00px;top:172.00px;width:270.00px;height:50.60px;background:#252628;border-radius:6px;"></div>
<svg class="b" style="left:819.60px;top:191.40px;" width="9.00" height="9.00" viewBox="0 0 10 10" preserveAspectRatio="none" fill="none"><path d="M5 0.6 V9.4 M0.6 5 H9.4" stroke="#a2a0a2" stroke-width="1.7"/></svg>
<span class="t" style="left:833.33px;top:191.00px;font-size:10.8px;color:#a2a0a2;font-weight:700;transform:scaleX(1.0725);-webkit-text-stroke:0;">Add task</span>
<div class="b" style="left:1080.00px;top:172.00px;width:270.00px;height:182.00px;background:#252628;border-radius:6px;"></div>
<div class="b" style="left:1090.40px;top:181.00px;width:250.50px;height:126.00px;background:#2a2b2d;border:1px solid #3b3c3e;border-radius:7px;"></div>
<svg class="b" style="left:1106.40px;top:197.80px;" width="14.40" height="13.20" viewBox="0 0 16 16" preserveAspectRatio="none" fill="none"><circle cx="8" cy="8" r="7.2" stroke="#7d7c7e" stroke-width="1.2" fill="#202123"/><path d="M4.8 8.4 L7 10.6 L11.4 5.8" stroke="#8d8c8e" stroke-width="1.2" stroke-linecap="round" stroke-linejoin="round"/></svg>
<span class="t" style="left:1127.13px;top:198.00px;font-size:11.6px;color:#f5f4f3;font-weight:400;transform:scaleX(1.0918);">Twitter Thread - Top 5 Automation</span>
<span class="t" style="left:1106.13px;top:216.00px;font-size:11.6px;color:#f5f4f3;font-weight:400;transform:scaleX(1.0657);">Tools for 2026</span>
<div class="b" style="left:1105.70px;top:243.30px;width:46.70px;height:16.20px;background:#fa828a;border-radius:3.5px;"></div>
<span class="t" style="left:1109.46px;top:247.00px;font-size:9.8px;color:#8a2433;font-weight:400;transform:scaleX(1.1254);-webkit-text-stroke:0.1px;">Medium</span>
<div class="b" style="left:1159.00px;top:243.30px;width:67.70px;height:16.20px;background:#424244;border-radius:3.5px;"></div>
<span class="t" style="left:1163.07px;top:247.00px;font-size:9.8px;color:#f5f4f3;font-weight:400;transform:scaleX(1.0529);">Social Media</span>
<div class="b" style="left:1105.70px;top:273.00px;width:22.00px;height:19.40px;background:#f2ba4a;border-radius:50%;"></div>
<span class="t" style="left:1111.36px;top:279.00px;font-size:9px;color:#5a4210;font-weight:400;transform:scaleX(0.9739);-webkit-text-stroke:0.1px;">SY</span>
<span class="t" style="left:1139.31px;top:278.00px;font-size:9.5px;color:#5da283;font-weight:400;transform:scaleX(1.1422);-webkit-text-stroke:0.1px;">Tomorrow</span>
<svg class="b" style="left:1103.20px;top:323.00px;" width="9.00" height="9.00" viewBox="0 0 10 10" preserveAspectRatio="none" fill="none"><path d="M5 0.6 V9.4 M0.6 5 H9.4" stroke="#a2a0a2" stroke-width="1.7"/></svg>
<span class="t" style="left:1117.13px;top:323.00px;font-size:10.8px;color:#a2a0a2;font-weight:700;transform:scaleX(1.0725);-webkit-text-stroke:0;">Add task</span>
<div class="b" style="left:1364.00px;top:172.00px;width:270.00px;height:313.40px;background:#252628;border-radius:6px;"></div>
<div class="b" style="left:1374.40px;top:181.00px;width:250.60px;height:126.00px;background:#2a2b2d;border:1px solid #3b3c3e;border-radius:7px;"></div>
<div style="opacity:0.72">
<svg class="b" style="left:1390.40px;top:197.80px;" width="14.40" height="13.20" viewBox="0 0 16 16" preserveAspectRatio="none" fill="none"><circle cx="8" cy="8" r="7.6" fill="#5da283"/><path d="M4.8 8.4 L7 10.6 L11.4 5.8" stroke="#e8f3ee" stroke-width="1.4" stroke-linecap="round" stroke-linejoin="round"/></svg>
<span class="t" style="left:1410.60px;top:198.00px;font-size:11.6px;color:#f5f4f3;font-weight:400;transform:scaleX(1.0705);">Blog Post - How to Choose the</span>
<span class="t" style="left:1389.60px;top:216.00px;font-size:11.6px;color:#f5f4f3;font-weight:400;transform:scaleX(1.0606);">Right CRM</span>
<div class="b" style="left:1390.00px;top:243.30px;width:46.30px;height:16.20px;background:#fa828a;border-radius:3.5px;"></div>
<span class="t" style="left:1393.76px;top:247.00px;font-size:9.8px;color:#8a2433;font-weight:400;transform:scaleX(1.1134);-webkit-text-stroke:0.1px;">Medium</span>
<div class="b" style="left:1443.60px;top:243.30px;width:28.20px;height:16.20px;background:#424244;border-radius:3.5px;"></div>
<span class="t" style="left:1447.41px;top:247.00px;font-size:9.8px;color:#f5f4f3;font-weight:400;transform:scaleX(1.0521);">Blog</span>
<div class="b" style="left:1389.70px;top:273.00px;width:22.00px;height:19.40px;background:#f2ba4a;border-radius:50%;"></div>
<span class="t" style="left:1395.36px;top:279.00px;font-size:9px;color:#5a4210;font-weight:400;transform:scaleX(0.9739);-webkit-text-stroke:0.1px;">SY</span>
<span class="t" style="left:1422.74px;top:278.00px;font-size:9.5px;color:#525153;font-weight:400;transform:scaleX(1.1439);-webkit-text-stroke:0.1px;">Mar 18</span>
</div>
<div class="b" style="left:1374.40px;top:312.00px;width:250.60px;height:126.00px;background:#2a2b2d;border:1px solid #3b3c3e;border-radius:7px;"></div>
<div style="opacity:0.72">
<svg class="b" style="left:1390.40px;top:328.90px;" width="14.40" height="13.20" viewBox="0 0 16 16" preserveAspectRatio="none" fill="none"><circle cx="8" cy="8" r="7.6" fill="#5da283"/><path d="M4.8 8.4 L7 10.6 L11.4 5.8" stroke="#e8f3ee" stroke-width="1.4" stroke-linecap="round" stroke-linejoin="round"/></svg>
<span class="t" style="left:1410.34px;top:330.00px;font-size:11.6px;color:#f5f4f3;font-weight:400;transform:scaleX(1.0576);">Instagram Reel - Day in the Life of a</span>
<span class="t" style="left:1390.40px;top:347.00px;font-size:11.6px;color:#f5f4f3;font-weight:400;transform:scaleX(0.9898);">VA</span>
<div class="b" style="left:1390.00px;top:374.40px;width:26.40px;height:16.20px;background:#83d8a4;border-radius:3.5px;"></div>
<span class="t" style="left:1393.84px;top:378.00px;font-size:9.8px;color:#1f6a40;font-weight:400;transform:scaleX(1.0087);-webkit-text-stroke:0.1px;">Low</span>
<div class="b" style="left:1423.20px;top:374.40px;width:66.10px;height:16.20px;background:#424244;border-radius:3.5px;"></div>
<span class="t" style="left:1427.29px;top:378.00px;font-size:9.8px;color:#f5f4f3;font-weight:400;transform:scaleX(1.0242);">Social Media</span>
<div class="b" style="left:1389.70px;top:404.10px;width:22.00px;height:19.40px;background:#f2ba4a;border-radius:50%;"></div>
<span class="t" style="left:1395.36px;top:410.00px;font-size:9px;color:#5a4210;font-weight:400;transform:scaleX(0.9739);-webkit-text-stroke:0.1px;">SY</span>
<span class="t" style="left:1422.76px;top:409.00px;font-size:9.5px;color:#525153;font-weight:400;transform:scaleX(1.1263);-webkit-text-stroke:0.1px;">Mar 17</span>
</div>
<svg class="b" style="left:1387.30px;top:453.00px;" width="9.00" height="9.00" viewBox="0 0 10 10" preserveAspectRatio="none" fill="none"><path d="M5 0.6 V9.4 M0.6 5 H9.4" stroke="#a2a0a2" stroke-width="1.7"/></svg>
<span class="t" style="left:1401.03px;top:453.00px;font-size:10.8px;color:#a2a0a2;font-weight:700;transform:scaleX(1.0703);-webkit-text-stroke:0;">Add task</span>
</body></html>
